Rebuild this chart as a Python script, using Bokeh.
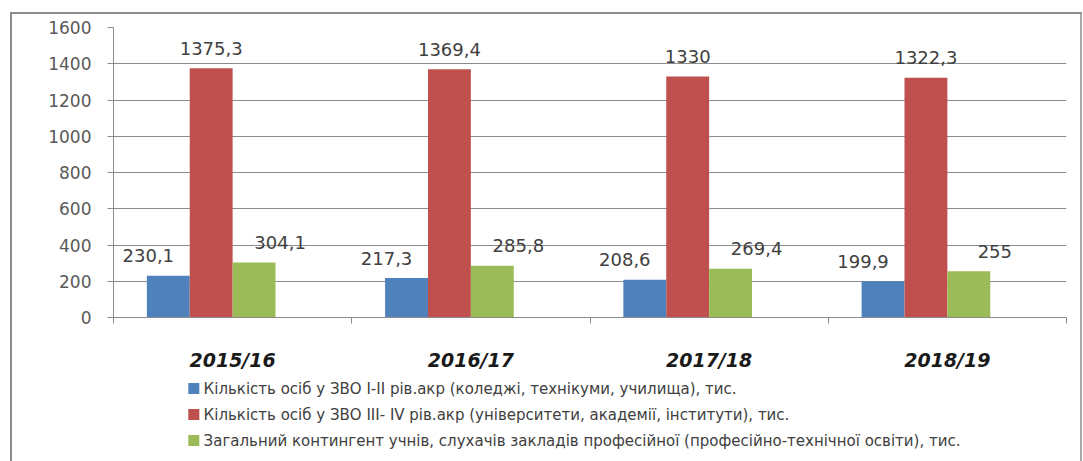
import numpy as np
from bokeh.plotting import figure
from bokeh.layouts import column
from bokeh.models import Range1d, FixedTicker, ColumnDataSource
from bokeh.transform import dodge
from bokeh.core.properties import value
from bokeh.embed import file_html
from bokeh.resources import INLINE

# ---- data ----
categories = ["2015/16", "2016/17", "2017/18", "2018/19"]
colleges = [230.1, 217.3, 208.6, 199.9]
universities = [1375.3, 1369.4, 1330, 1322.3]
vocational = [304.1, 285.8, 269.4, 255]
series_names = [
    "Кількість осіб у ЗВО I-II рів.акр (коледжі, технікуми, училища), тис.",
    "Кількість осіб у ЗВО III- IV рів.акр (університети,  академії, інститути), тис.",
    "Загальний контингент учнів, слухачів закладів професійної (професійно-технічної освіти), тис.",
]
y_ticks = [0, 200, 400, 600, 800, 1000, 1200, 1400, 1600]

colors = ["#4F81BD", "#C0504D", "#9BBB59"]
FONT = "DejaVu Sans"
W = 1068
H_CHART = 362
H_LEG = 85


def fmt(v):
    s = ("%.1f" % v).replace(".", ",")
    return s[:-2] if s.endswith(",0") else s


centers = list(np.arange(len(categories)) + 0.5)
src = ColumnDataSource(dict(
    xc=centers,
    s1=colleges, s2=universities, s3=vocational,
    l1=[fmt(v) for v in colleges],
    l2=[fmt(v) for v in universities],
    l3=[fmt(v) for v in vocational],
))

p = figure(width=W, height=H_CHART,
           x_range=Range1d(0, len(categories)), y_range=Range1d(0, 1600),
           output_backend="svg", toolbar_location=None,
           min_border_left=101, min_border_right=14,
           min_border_top=13, min_border_bottom=H_CHART - 13 - 290)
p.outline_line_color = None
p.background_fill_color = "white"
p.border_fill_color = "white"

offsets = [-0.27, -0.09, 0.09]
label_dx = [-20, 0, 26]
for k, (col, lab) in enumerate([("s1", "l1"), ("s2", "l2"), ("s3", "l3")]):
    xs = dodge("xc", offsets[k], range=p.x_range)
    p.vbar(x=xs, top=col, width=0.18, source=src,
           fill_color=colors[k], line_color=None)
    p.text(x=xs, y=col, text=lab, source=src,
           x_offset=label_dx[k], y_offset=-20,
           text_align="center", text_baseline="middle",
           text_font=value(FONT), text_font_size="18px", text_color="#404040")

# y axis
yax = p.yaxis[0]
yax.ticker = FixedTicker(ticks=y_ticks)
yax.axis_line_color = "#8c8c8c"
yax.major_tick_line_color = "#8c8c8c"
yax.major_tick_out = 6
yax.major_tick_in = 0
yax.minor_tick_line_color = None
yax.major_label_standoff = 16
yax.major_label_text_font = FONT
yax.major_label_text_font_size = "17px"
yax.major_label_text_color = "#595959"

p.ygrid[0].ticker = FixedTicker(ticks=y_ticks)
p.ygrid[0].grid_line_color = "#8c8c8c"
p.ygrid[0].grid_line_width = 1
p.xgrid.visible = False

# x axis
xax = p.xaxis[0]
xax.ticker = FixedTicker(ticks=centers, minor_ticks=list(range(len(categories) + 1)))
xax.major_label_overrides = {c: n for c, n in zip(centers, categories)}
xax.axis_line_color = "#8c8c8c"
xax.major_tick_line_color = None
xax.major_tick_out = 0
xax.major_tick_in = 0
xax.minor_tick_line_color = "#8c8c8c"
xax.minor_tick_out = 6
xax.minor_tick_in = 0
xax.major_label_standoff = 25
xax.major_label_text_font = FONT
xax.major_label_text_font_size = "19px"
xax.major_label_text_font_style = "bold italic"
xax.major_label_text_color = "#1a1a1a"

# legend drawn as its own strip (pixel-scaled ranges, y downward)
leg = figure(width=W, height=H_LEG,
             x_range=Range1d(0, W), y_range=Range1d(H_LEG, 0),
             output_backend="svg", toolbar_location=None,
             x_axis_location=None, y_axis_location=None,
             min_border=0, min_border_left=0, min_border_right=0,
             min_border_top=0, min_border_bottom=0)
leg.outline_line_color = None
leg.grid.visible = False
leg.background_fill_color = "white"
leg.border_fill_color = "white"

row_pitch = 26
row0 = 12
rows = [row0 + i * row_pitch for i in range(len(series_names))]
leg_src = ColumnDataSource(dict(y=rows, name=series_names, color=colors))
leg.scatter(x=90, y="y", marker="square", size=11, source=leg_src,
            fill_color="color", line_color=None)
leg.text(x=101, y="y", text="name", source=leg_src,
         text_align="left", text_baseline="middle",
         text_font=value(FONT), text_font_size="15px", text_color="#404040")

layout = column(p, leg, spacing=0,
                styles={"margin-left": "10px", "margin-top": "12px",
                        "border-top": "2px solid #8c8c8c",
                        "border-left": "2px solid #8c8c8c",
                        "border-right": "2px solid #a8a8a8"})

open("out.html", "w").write(file_html(layout, INLINE))
